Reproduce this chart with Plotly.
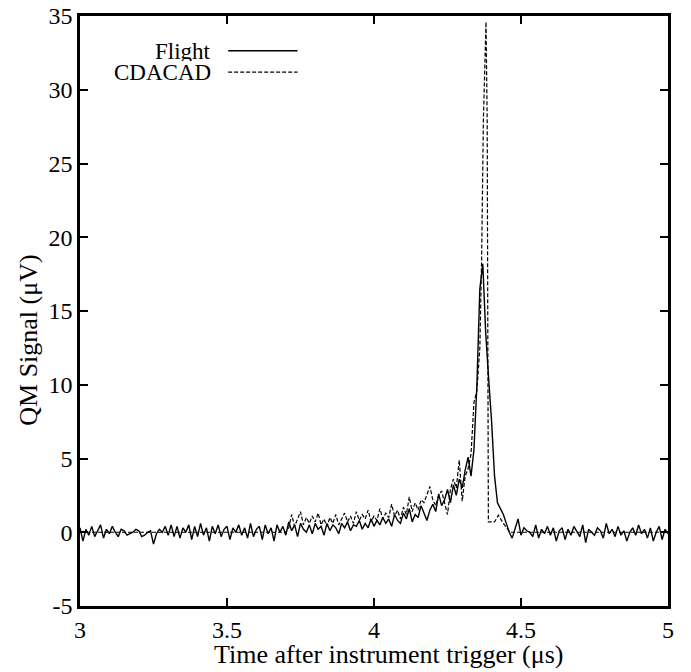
import plotly.graph_objects as go

# ---- Data ----
flight_time = [round(3.0 + 0.01 * i, 2) for i in range(201)]  # sample grid, 10 ns steps
flight_signal = [
    0.3, -0.6, 0.2, -0.2, 0.4, -0.3, 0.1, 0.5, -0.4, 0.2,
    -0.1, 0.4, 0.0, -0.3, 0.2, 0.1, -0.2, -0.1, 0.0, 0.2,
    0.1, -0.3, -0.2, 0.0, 0.1, -0.8, -0.1, 0.2, 0.0, 0.4,
    -0.2, 0.5, -0.3, 0.4, -0.4, 0.3, 0.0, 0.5, -0.5, 0.4,
    -0.3, 0.6, -0.2, 0.3, -0.6, 0.4, -0.1, 0.5, -0.3, 0.2,
    0.4, -0.5, 0.3, 0.0, 0.5, -0.2, 0.3, -0.4, 0.6, -0.3,
    0.2, 0.4, -0.5, 0.5, -0.1, 0.3, -0.6, 0.5, 0.0, 0.4,
    -0.2, 0.7, 0.1, 0.5, -0.3, 0.6, 0.2, 0.0, 0.5, -0.1,
    0.6, 0.2, 0.4, -0.2, 0.6, 0.1, 0.5, 0.3, -0.1, 0.6,
    0.3, 0.7, 0.1, 0.5, 0.4, 0.8, 0.2, 0.6, 0.3, 0.9,
    0.4, 0.8, 0.5, 1.0, 0.6, 0.9, 0.4, 1.2, 0.8, 0.6,
    1.3, 0.9, 1.6, 0.7, 1.2, 1.0, 1.8, 1.3, 0.8, 1.5,
    1.9, 1.4, 2.6, 1.8, 2.2, 2.9, 2.0, 3.2, 2.5, 3.6,
    3.0, 4.2, 5.1, 3.8, 5.6, 10.0, 16.5, 18.2, 13.5, 10.4,
    7.5, 3.8, 2.0, 1.6, 1.2, 0.6, 0.0, -0.4, 0.3, 0.9,
    -0.2, 0.3, 0.1, 0.0, -0.3, 0.5, -0.4, 0.2, -0.1, 0.4,
    -0.2, 0.3, -0.6, 0.1, 0.3, -0.5, 0.2, -0.2, 0.4, 0.0,
    -0.3, 0.5, -0.7, 0.2, 0.0, -0.2, 0.3, 0.1, -0.4, 0.6,
    -0.1, 0.2, -0.3, 0.4, -0.2, 0.1, -0.6, 0.0, 0.3, -0.2,
    0.5, -0.1, 0.2, -0.4, 0.3, -0.6, 0.0, 0.4, -0.5, 0.2,
    -0.1,
]

cdacad_time = [
    3.00, 3.70, 3.71,
    3.72, 3.73, 3.74, 3.75, 3.76, 3.77, 3.78, 3.79,
    3.80, 3.81, 3.82, 3.83, 3.84, 3.85, 3.86, 3.87, 3.88, 3.89,
    3.90, 3.91, 3.92, 3.93, 3.94, 3.95, 3.96, 3.97, 3.98, 3.99,
    4.00, 4.01, 4.02, 4.03, 4.04, 4.05, 4.06, 4.07, 4.08, 4.09,
    4.10, 4.11, 4.12, 4.13, 4.14, 4.15, 4.16, 4.17, 4.18, 4.19,
    4.20, 4.21, 4.22, 4.23, 4.24, 4.25, 4.26, 4.27, 4.28, 4.29,
    4.30, 4.31, 4.32, 4.33, 4.34, 4.35, 4.36,
    4.366, 4.372, 4.381, 4.385, 4.389, 4.41, 4.423, 4.44, 4.463, 5.00,
]
cdacad_signal = [
    0.0, 0.0, 0.3,
    1.2, 0.4, 0.9, 1.4, 0.5, 1.0, 0.6, 1.1,
    0.7, 1.3, 0.5, 0.9, 0.4, 1.0, 0.6, 1.2, 0.5, 0.9,
    1.3, 0.7, 1.1, 0.6, 1.4, 0.8, 1.2, 0.9, 1.5, 0.7,
    1.1, 0.8, 1.6, 0.9, 1.3, 1.0, 1.9, 1.1, 1.5, 0.9,
    1.7, 1.2, 2.4, 1.4, 2.0, 1.5, 2.2, 2.0, 2.6, 3.1,
    2.2, 1.8, 2.5, 2.8, 2.0, 1.2, 2.9, 3.6, 3.0, 4.9,
    2.1, 3.8, 4.3, 5.3, 8.8, 9.6, 12.5,
    18.4, 27.9, 34.6, 27.9, 0.7, 0.7, 1.15, 0.6, 0.0, 0.0,
]

x_ticks = [3, 3.5, 4, 4.5, 5]
x_tick_labels = ["3", "3.5", "4", "4.5", "5"]
y_ticks = [-5, 0, 5, 10, 15, 20, 25, 30, 35]
y_tick_labels = ["-5", "0", "5", "10", "15", "20", "25", "30", "35"]

series_names = ["Flight", "CDACAD"]
x_title = "Time after instrument trigger (\u03bcs)"
y_title = "QM Signal (\u03bcV)"

FONT = "Liberation Serif, Times New Roman, serif"

fig = go.Figure()
fig.add_trace(go.Scatter(
    x=flight_time, y=flight_signal, mode="lines", name=series_names[0],
    line=dict(color="black", width=1.4), showlegend=False,
))
fig.add_trace(go.Scatter(
    x=cdacad_time, y=cdacad_signal, mode="lines", name=series_names[1],
    line=dict(color="black", width=1.2, dash="4px,2px"), showlegend=False,
))

# Legend drawn gnuplot-style: right-aligned text followed by the line sample
legend_rows = [(series_names[0], "solid", 1.4, 0.941), (series_names[1], "4px,2px", 1.2, 0.905)]
for name, dash, w, yp in legend_rows:
    fig.add_annotation(
        xref="paper", yref="paper", x=0.226, y=yp, text=name, showarrow=False,
        xanchor="right", yanchor="middle", font=dict(family=FONT, size=23, color="black"),
        height=20,
    )
    fig.add_shape(
        type="line", xref="paper", yref="paper", x0=0.252, x1=0.370, y0=yp, y1=yp,
        line=dict(color="black", width=w, dash=dash),
    )

# Axis titles placed where the reference has them
fig.add_annotation(
    xref="paper", yref="paper", x=0.524, y=-0.083, text=x_title, showarrow=False,
    xanchor="center", yanchor="middle", font=dict(family=FONT, size=26, color="black"),
)
fig.add_annotation(
    xref="paper", yref="paper", x=-0.088, y=0.45, text=y_title, showarrow=False,
    textangle=-90, xanchor="center", yanchor="middle",
    font=dict(family=FONT, size=26, color="black"),
)

axis_common = dict(
    showline=True, linecolor="black", linewidth=2.5, mirror="ticks",
    ticks="inside", ticklen=8, tickwidth=2, tickcolor="black",
    showgrid=False, zeroline=False, automargin=False,
    tickfont=dict(family=FONT, size=24, color="black"),
)

fig.update_layout(
    width=691, height=672, autosize=False,
    margin=dict(l=80, r=23, t=16, b=66),
    paper_bgcolor="white", plot_bgcolor="white",
    xaxis=dict(range=[3, 5], tickvals=x_ticks, ticktext=x_tick_labels, **axis_common),
    yaxis=dict(range=[-5, 35], tickvals=y_ticks, ticktext=y_tick_labels, **axis_common),
)

# remove the browser's default 8px body margin so the figure sits at the page origin
fig.write_html(
    "out.html",
    config={"displayModeBar": False},
    post_script="document.body.style.margin='0';document.body.style.overflow='hidden';",
)
